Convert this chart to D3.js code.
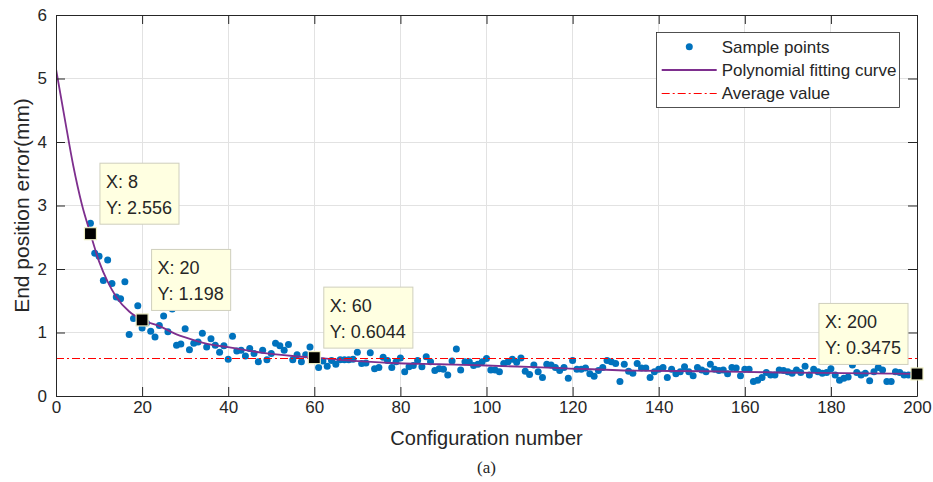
<!DOCTYPE html>
<html>
<head>
<meta charset="utf-8">
<script src="https://cdn.jsdelivr.net/npm/d3@7"></script>
<style>
  html, body { margin: 0; padding: 0; background: #fff; }
  svg { display: block; }
  text { font-family: "Liberation Sans", Arial, Helvetica, sans-serif; fill: #262626; }
</style>
</head>
<body>
<svg id="chart" width="933" height="482"></svg>
<script>
// Configuration numbers of the measured samples
const configNumbers = [
  8, 9, 10, 11, 12, 13, 14, 15, 16, 17, 18, 19, 20, 21, 22, 23, 24, 25, 26, 27,
  28, 29, 30, 31, 32, 33, 34, 35, 36, 37, 38, 39, 40, 41, 42, 43, 44, 45, 46, 47,
  48, 49, 50, 51, 52, 53, 54, 55, 56, 57, 58, 59, 60, 61, 62, 63, 64, 65, 66, 67,
  68, 69, 70, 71, 72, 73, 74, 75, 76, 77, 78, 79, 80, 81, 82, 83, 84, 85, 86, 87,
  88, 89, 90, 91, 92, 93, 94, 95, 96, 97, 98, 99, 100, 101, 102, 103, 104, 105, 106, 107,
  108, 109, 110, 111, 112, 113, 114, 115, 116, 117, 118, 119, 120, 121, 122, 123, 124, 125, 126, 127,
  128, 129, 130, 131, 132, 133, 134, 135, 136, 137, 138, 139, 140, 141, 142, 143, 144, 145, 146, 147,
  148, 149, 150, 151, 152, 153, 154, 155, 156, 157, 158, 159, 160, 161, 162, 163, 164, 165, 166, 167,
  168, 169, 170, 171, 172, 173, 174, 175, 176, 177, 178, 179, 180, 181, 182, 183, 184, 185, 186, 187,
  188, 189, 190, 191, 192, 193, 194, 195, 196, 197, 198, 199, 200
];

// End position error (mm) for each configuration
const positionError = [
  2.72, 2.25, 2.20, 1.82, 2.14, 1.77, 1.56, 1.53, 1.80, 0.97, 1.22, 1.42, 1.07, 1.15, 1.02, 0.93, 1.11, 1.26, 1.01, 1.37,
  0.80, 0.82, 1.06, 0.73, 0.83, 0.85, 0.99, 0.77, 0.90, 0.80, 0.69, 0.79, 0.58, 0.94, 0.71, 0.72, 0.63, 0.75, 0.67, 0.54,
  0.72, 0.57, 0.67, 0.83, 0.79, 0.72, 0.81, 0.57, 0.65, 0.54, 0.65, 0.77, 0.60, 0.45, 0.55, 0.47, 0.56, 0.50, 0.57, 0.57,
  0.57, 0.58, 0.69, 0.51, 0.52, 0.68, 0.43, 0.45, 0.61, 0.56, 0.45, 0.54, 0.60, 0.38, 0.46, 0.48, 0.56, 0.46, 0.62, 0.54,
  0.40, 0.43, 0.42, 0.33, 0.55, 0.74, 0.41, 0.54, 0.54, 0.48, 0.50, 0.54, 0.59, 0.41, 0.41, 0.38, 0.51, 0.54, 0.58, 0.53,
  0.60, 0.39, 0.34, 0.49, 0.38, 0.29, 0.50, 0.49, 0.45, 0.40, 0.45, 0.28, 0.56, 0.42, 0.42, 0.44, 0.35, 0.31, 0.40, 0.45,
  0.56, 0.54, 0.51, 0.23, 0.50, 0.39, 0.36, 0.51, 0.44, 0.44, 0.29, 0.38, 0.42, 0.45, 0.29, 0.42, 0.35, 0.38, 0.46, 0.38,
  0.32, 0.45, 0.41, 0.38, 0.50, 0.42, 0.40, 0.41, 0.35, 0.45, 0.44, 0.32, 0.42, 0.42, 0.23, 0.25, 0.29, 0.37, 0.33, 0.33,
  0.41, 0.40, 0.38, 0.36, 0.41, 0.37, 0.47, 0.33, 0.42, 0.38, 0.36, 0.37, 0.43, 0.33, 0.25, 0.28, 0.30, 0.49, 0.37, 0.33,
  0.36, 0.24, 0.38, 0.45, 0.41, 0.23, 0.23, 0.38, 0.37, 0.33, 0.33, 0.34, 0.35
];

// Polynomial fitting curve, sampled along the configuration axis
const fitX = [0, 2, 4, 6, 8, 10, 12, 14, 17, 20, 24, 28, 32, 36, 40, 48, 55, 60, 66, 78, 89, 100, 117, 134, 151, 168, 183, 200];
const fitY = [5.15, 4.38, 3.63, 3.02, 2.556, 2.12, 1.80, 1.56, 1.33, 1.198, 1.10, 0.97, 0.88, 0.81, 0.77, 0.68, 0.63, 0.6044, 0.57, 0.52, 0.50, 0.48, 0.44, 0.40, 0.39, 0.37, 0.36, 0.3475];

// Mean of the end position error
const averageValue = 0.598;

// Data tips placed on the fitted curve
const tipX = [8, 20, 60, 200];
const tipY = [2.556, 1.198, 0.6044, 0.3475];
const tipLabelY = ["2.556", "1.198", "0.6044", "0.3475"];
const tipSide = ["right", "right", "right", "left"];

// Axis ticks
const xTicks = [0, 20, 40, 60, 80, 100, 120, 140, 160, 180, 200];
const yTicks = [0, 1, 2, 3, 4, 5, 6];

const legendLabels = ["Sample points", "Polynomial fitting curve", "Average value"];

const colors = { points: "#0072BD", fit: "#7E2F8E", avg: "#FF0000", axis: "#262626", grid: "#e2e2e2" };

const plot = { left: 56, right: 917, top: 15, bottom: 396 };

const svg = d3.select("#chart");

const x = d3.scaleLinear().domain([0, 200]).range([plot.left, plot.right]);
const y = d3.scaleLinear().domain([0, 6]).range([plot.bottom, plot.top]);

// Grid
const grid = svg.append("g").attr("stroke", colors.grid).attr("stroke-width", 1).attr("shape-rendering", "crispEdges");
grid.selectAll("line.gx").data(xTicks).join("line")
  .attr("x1", d => x(d)).attr("x2", d => x(d))
  .attr("y1", plot.top).attr("y2", plot.bottom);
grid.selectAll("line.gy").data(yTicks).join("line")
  .attr("x1", plot.left).attr("x2", plot.right)
  .attr("y1", d => y(d)).attr("y2", d => y(d));

// Clip for data marks
svg.append("clipPath").attr("id", "plotClip").append("rect")
  .attr("x", plot.left).attr("y", plot.top)
  .attr("width", plot.right - plot.left).attr("height", plot.bottom - plot.top);

const marks = svg.append("g").attr("clip-path", "url(#plotClip)");

// Sample points
marks.append("g").selectAll("circle")
  .data(configNumbers.map((c, i) => [c, positionError[i]]))
  .join("circle")
  .attr("cx", d => x(d[0]))
  .attr("cy", d => y(d[1]))
  .attr("r", 3.5)
  .attr("fill", colors.points);

// Fitting curve
const fitLine = d3.line().x(d => x(d[0])).y(d => y(d[1])).curve(d3.curveMonotoneX);
marks.append("path")
  .datum(fitX.map((v, i) => [v, fitY[i]]))
  .attr("d", fitLine)
  .attr("fill", "none")
  .attr("stroke", colors.fit)
  .attr("stroke-width", 1.8);

// Average value
const avgPx = Math.round(y(averageValue)) + 0.5;
marks.append("line")
  .attr("x1", x(0)).attr("x2", x(200))
  .attr("y1", avgPx).attr("y2", avgPx)
  .attr("stroke", colors.avg)
  .attr("stroke-width", 1)
  .attr("stroke-dasharray", "8,3,2,3");

// Axes (ticks point inward on all four sides)
const tickLen = 9;
function styleAxis(g) {
  g.selectAll("path.domain").attr("stroke", colors.axis);
  g.selectAll(".tick line").attr("stroke", colors.axis);
  g.selectAll(".tick text").attr("fill", colors.axis).style("font-size", "17px")
    .style("font-family", '"Liberation Sans", Arial, Helvetica, sans-serif');
}
svg.append("g").attr("transform", `translate(0,${plot.bottom})`)
  .call(d3.axisBottom(x).tickValues(xTicks).tickSize(-tickLen).tickSizeOuter(0).tickPadding(5).tickFormat(d3.format("d")))
  .call(styleAxis);
svg.append("g").attr("transform", `translate(0,${plot.top})`)
  .call(d3.axisTop(x).tickValues(xTicks).tickSize(-tickLen).tickSizeOuter(0).tickFormat(""))
  .call(styleAxis);
svg.append("g").attr("transform", `translate(${plot.left},0)`)
  .call(d3.axisLeft(y).tickValues(yTicks).tickSize(-tickLen).tickSizeOuter(0).tickPadding(9).tickFormat(d3.format("d")))
  .call(styleAxis);
svg.append("g").attr("transform", `translate(${plot.right},0)`)
  .call(d3.axisRight(y).tickValues(yTicks).tickSize(-tickLen).tickSizeOuter(0).tickFormat(""))
  .call(styleAxis);

// Axis titles
svg.append("text")
  .attr("x", (plot.left + plot.right) / 2).attr("y", 445)
  .attr("text-anchor", "middle").style("font-size", "20px")
  .text("Configuration number");
svg.append("text")
  .attr("transform", `translate(29,${(plot.top + plot.bottom) / 2}) rotate(-90)`)
  .attr("text-anchor", "middle").style("font-size", "21px")
  .text("End position error(mm)");
svg.append("text")
  .attr("x", (plot.left + plot.right) / 2).attr("y", 473)
  .attr("text-anchor", "middle")
  .style("font-family", '"Liberation Serif", "Times New Roman", serif')
  .style("font-size", "17px").attr("fill", "#000")
  .text("(a)");

// Legend
const legend = svg.append("g").attr("transform", "translate(656,32)");
legend.append("rect").attr("x", 0.5).attr("y", 0.5).attr("width", 243).attr("height", 75)
  .attr("fill", "#fff").attr("stroke", colors.axis).attr("stroke-width", 0.8);
const rowY = [14.7, 38, 60.7];
legend.append("circle").attr("cx", 33.3).attr("cy", rowY[0]).attr("r", 3.5).attr("fill", colors.points);
legend.append("line").attr("x1", 5.7).attr("x2", 60.7).attr("y1", rowY[1]).attr("y2", rowY[1])
  .attr("stroke", colors.fit).attr("stroke-width", 1.8);
legend.append("line").attr("x1", 5.7).attr("x2", 60.7).attr("y1", Math.round(rowY[2]) + 0.5).attr("y2", Math.round(rowY[2]) + 0.5)
  .attr("stroke", colors.avg).attr("stroke-width", 1).attr("stroke-dasharray", "8,3,2,3");
legend.selectAll("text.lab").data(legendLabels).join("text")
  .attr("x", 65.7).attr("y", (d, i) => rowY[i]).attr("dy", "0.35em")
  .style("font-size", "17px").attr("fill", "#000")
  .text(d => d);

// Data tips
const tips = svg.append("g");
tipX.forEach((tx, i) => {
  const px = x(tx), py = y(tipY[i]);
  const g = tips.append("g");
  const box = g.append("rect").attr("fill", "#ffffe1").attr("stroke", "#cfcfbd").attr("stroke-width", 1);
  const t1 = g.append("text").style("font-size", "18px").attr("fill", "#000").text(`X: ${tx}`);
  const t2 = g.append("text").style("font-size", "18px").attr("fill", "#000").text(`Y: ${tipLabelY[i]}`);
  const w = Math.max(t1.node().getComputedTextLength(), t2.node().getComputedTextLength()) + 13;
  const h = 61;
  const bx = tipSide[i] === "right" ? px + 9.5 : px - 9 - w;
  const by = py - 9.5 - h;
  box.attr("x", bx).attr("y", by).attr("width", w).attr("height", h);
  t1.attr("x", bx + 6).attr("y", by + 24.5);
  t2.attr("x", bx + 6).attr("y", by + 50.5);
  g.append("rect")
    .attr("x", px - 6).attr("y", py - 6).attr("width", 12).attr("height", 12)
    .attr("fill", "#000").attr("stroke", "#eeeec4").attr("stroke-width", 1.2);
});
</script>
</body>
</html>
